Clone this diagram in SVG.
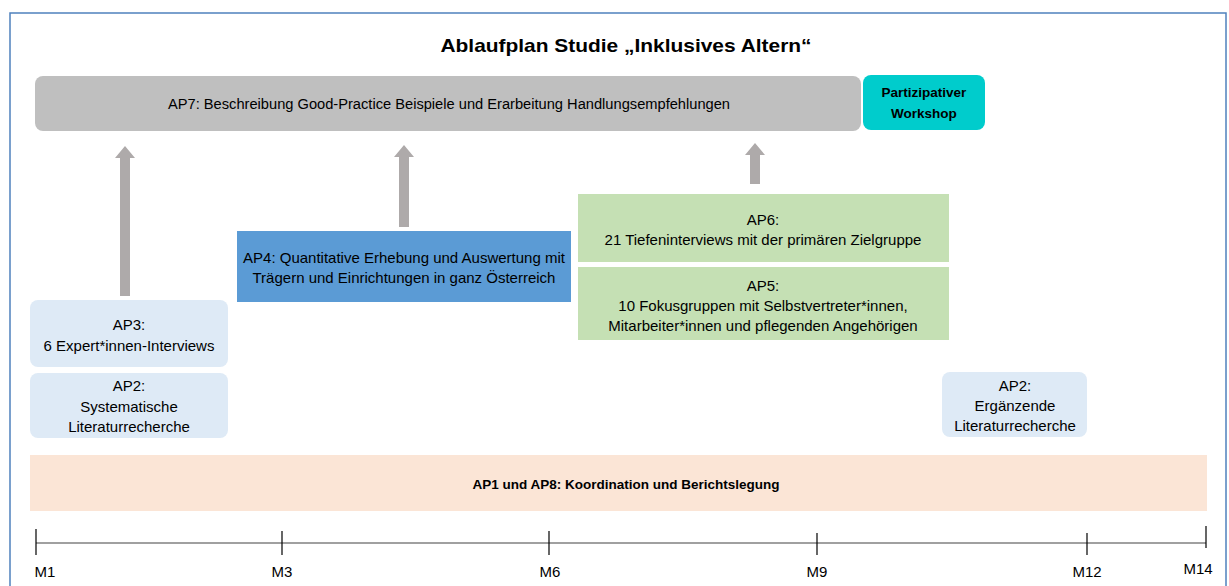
<svg xmlns="http://www.w3.org/2000/svg" width="1229" height="586" viewBox="0 0 1229 586">
<style>
  text { font-family: "Liberation Sans", Arial, sans-serif; fill: #000; text-anchor: middle; }
  .t { font-size: 15px; }
  .bb { font-size: 13.5px; font-weight: bold; }
  .ap7 { fill: #bfbfbf; }
  .lb { fill: #deeaf6; }
  .gr { fill: #c5e0b4; }
  .arrow { fill: #aeaaaa; }
  .tick { stroke: #000; stroke-width: 1.2; }
</style>
<rect x="0" y="0" width="1229" height="586" fill="#fff"/>
<rect id="frame" x="10" y="13" width="1216" height="590" fill="none" stroke="#4f81bd" stroke-width="1.5"/>
<g id="title"><text x="626" y="52" font-weight="bold" font-size="19" textLength="371" lengthAdjust="spacingAndGlyphs">Ablaufplan Studie „Inklusives Altern“</text></g>

<g id="ap7"><rect x="35" y="76" width="826" height="55" rx="8" class="ap7"/><text x="449" y="109" font-size="14" textLength="562" lengthAdjust="spacingAndGlyphs">AP7: Beschreibung  Good-Practice Beispiele und Erarbeitung Handlungsempfehlungen</text></g>
<g id="workshop"><rect x="863" y="75" width="122" height="55" rx="8" fill="#00cccc"/><text x="924" y="97" class="bb">Partizipativer</text><text x="924" y="118" class="bb">Workshop</text></g>

<g id="connectors">
  <polygon class="arrow" points="120,296 130,296 130,158 135,158 125,146 115,158 120,158"/>
  <polygon class="arrow" points="399,227 409,227 409,157 414,157 404,145 394,157 399,157"/>
  <polygon class="arrow" points="750,184 760,184 760,155 765,155 755,143 745,155 750,155"/>
</g>

<g id="ap3"><rect x="30" y="300" width="198" height="67" rx="8" class="lb"/><text x="129" y="330" class="t">AP3:</text><text x="129" y="351" class="t">6 Expert*innen-Interviews</text></g>
<g id="ap2a"><rect x="30" y="373" width="198" height="65" rx="8" class="lb"/><text x="129" y="391" class="t">AP2:</text><text x="129" y="412" class="t">Systematische</text><text x="129" y="432" class="t">Literaturrecherche</text></g>
<g id="ap4"><rect x="237" y="231" width="334" height="71" fill="#5b9bd5"/><text x="404" y="263" class="t">AP4: Quantitative Erhebung und Auswertung mit</text><text x="404" y="283" class="t">Trägern und Einrichtungen in ganz Österreich</text></g>
<g id="ap6"><rect x="578" y="194" width="371" height="68" class="gr"/><text x="763" y="225" class="t">AP6:</text><text x="763" y="245" class="t">21 Tiefeninterviews mit der primären Zielgruppe</text></g>
<g id="ap5"><rect x="578" y="267" width="371" height="73" class="gr"/><text x="763" y="291" class="t">AP5:</text><text x="763" y="311" class="t">10 Fokusgruppen mit Selbstvertreter*innen,</text><text x="763" y="331" class="t">Mitarbeiter*innen und pflegenden Angehörigen</text></g>
<g id="ap2b"><rect x="942" y="372" width="145" height="65" rx="8" class="lb"/><text x="1015" y="391" class="t">AP2:</text><text x="1015" y="411" class="t">Ergänzende</text><text x="1015" y="431" class="t">Literaturrecherche</text></g>
<g id="ap1"><rect x="30" y="455" width="1177" height="56" fill="#fbe5d6"/><text x="626" y="489" class="bb">AP1 und AP8: Koordination und Berichtslegung</text></g>

<g id="timeline">
  <line x1="36" y1="543" x2="1206" y2="543" stroke="#808080" stroke-width="1.5"/>
  <line class="tick" x1="36" y1="529" x2="36" y2="555"/>
  <line class="tick" x1="282" y1="531" x2="282" y2="555"/>
  <line class="tick" x1="549" y1="531" x2="549" y2="555"/>
  <line class="tick" x1="817" y1="533" x2="817" y2="555"/>
  <line class="tick" x1="1087" y1="533" x2="1087" y2="555"/>
  <line class="tick" x1="1206" y1="526" x2="1206" y2="548"/>
  <text x="45" y="577" class="t">M1</text>
  <text x="282" y="577" class="t">M3</text>
  <text x="550" y="577" class="t">M6</text>
  <text x="817" y="577" class="t">M9</text>
  <text x="1087" y="577" class="t">M12</text>
  <text x="1198" y="574" class="t">M14</text>
</g>
</svg>
